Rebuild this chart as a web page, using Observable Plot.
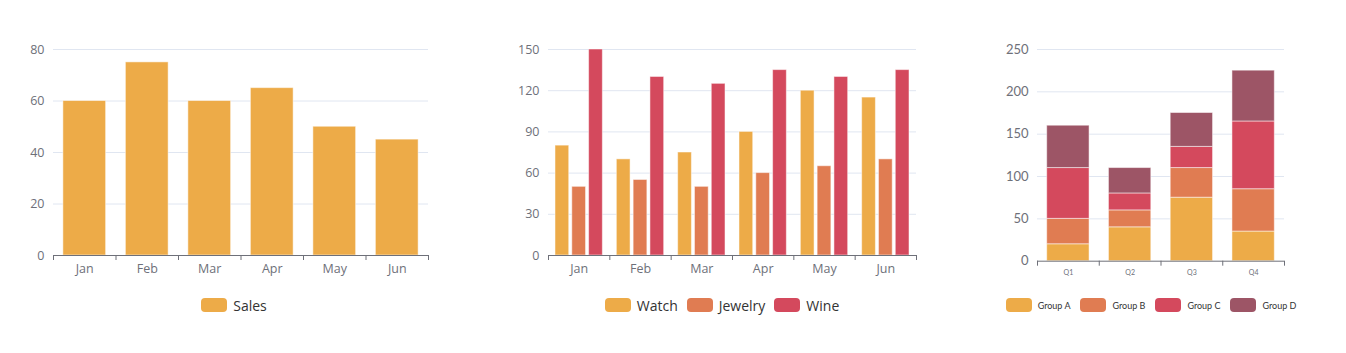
<!DOCTYPE html>
<html><head><meta charset="utf-8">
<script src="https://cdn.jsdelivr.net/npm/d3@7"></script>
<script src="https://cdn.jsdelivr.net/npm/@observablehq/plot@0.6"></script>
<style>
body{margin:0;background:#fff;}
#root{position:relative;width:1346px;height:353px;overflow:hidden;}
.panel{position:absolute;top:0;}
.legend{position:absolute;top:298px;height:14px;width:600px;display:flex;justify-content:center;align-items:center;color:#333;}
.item{display:flex;align-items:center;white-space:nowrap;}
.sw{width:26px;height:14px;border-radius:4px;flex:none;}
</style></head><body><div id="root"></div>
<script>
// ---- data ----
const months = ["Jan","Feb","Mar","Apr","May","Jun"];
const sales = [60,75,60,65,50,45];
const series2 = ["Watch","Jewelry","Wine"];
const watch = [80,70,75,90,120,115];
const jewelry = [50,55,50,60,65,70];
const wine = [150,130,125,135,130,135];
const quarters = ["Q1","Q2","Q3","Q4"];
const groups = ["Group A","Group B","Group C","Group D"];
const groupA = [20,40,75,35];
const groupB = [30,20,35,50];
const groupC = [60,20,25,80];
const groupD = [50,30,40,60];
const ticks1 = [0,20,40,60,80];
const ticks2 = [0,30,60,90,120,150];
const ticks3 = [0,50,100,150,200,250];
const colors = ["#edab48","#e07c52","#d4495d","#9d5566"];

const root = document.getElementById("root");
const AXIS = "#6e7079", GRID = "#e0e6f1";

function makePanel(o) {
  const n = o.cats.length;
  const chart = Plot.plot({
    width: o.width, height: 290,
    marginLeft: o.marginLeft, marginRight: o.marginRight,
    marginTop: o.marginTop, marginBottom: o.marginBottom,
    style: {fontFamily: o.font, background: "transparent", overflow: "visible"},
    x: {type: "linear", domain: [0, n], axis: null, label: null},
    y: {domain: [0, o.yTicks[o.yTicks.length - 1]], axis: null, label: null},
    color: o.color,
    marks: [
      Plot.gridY(o.yTicks.slice(1), {stroke: GRID, strokeOpacity: 1}),
      Plot.axisY(o.yTicks, {tickSize: 0, tickPadding: 9, fontSize: o.yFont, color: AXIS, label: null, fontFamily: o.yFamily || o.font}),
      ...o.marks,
      Plot.ruleY([0], {stroke: AXIS}),
      Plot.axisX(d3.range(n + 1), {tickSize: 5, tickFormat: () => "", color: AXIS, label: null}),
      Plot.axisX(d3.range(n).map(i => i + 0.5), {tickSize: 0, tickPadding: o.xPad, fontSize: o.xFont, color: AXIS, label: null,
        tickFormat: v => o.cats[Math.floor(v)], fontFamily: o.xFamily || o.font})
    ]
  });
  const div = document.createElement("div");
  div.className = "panel";
  div.style.left = o.left + "px";
  div.appendChild(chart);
  root.appendChild(div);
}

function makeLegend(center, names, cols, font, size, gap, textGap) {
  const lg = document.createElement("div");
  lg.className = "legend";
  lg.style.left = (center - 300) + "px";
  lg.style.fontFamily = font;
  lg.style.fontSize = size + "px";
  lg.style.gap = gap + "px";
  names.forEach((nm, i) => {
    const it = document.createElement("div");
    it.className = "item";
    it.style.gap = textGap + "px";
    const sw = document.createElement("div");
    sw.className = "sw";
    sw.style.background = cols[i];
    const tx = document.createElement("span");
    tx.textContent = nm;
    it.appendChild(sw); it.appendChild(tx);
    lg.appendChild(it);
  });
  root.appendChild(lg);
}

const FONT = "'Open Sans', 'Noto Sans', sans-serif";
const barStyle = {stroke: "#fff", strokeOpacity: 0.5, strokeWidth: 1};

// ---- Panel 1 ----
{
  const width = 450, ml = 53, mr = 22;
  const step = (width - ml - mr) / months.length;
  const inset = step * 0.158;
  makePanel({
    left: 0, width, marginLeft: ml, marginRight: mr, marginTop: 49, marginBottom: 35,
    cats: months, yTicks: ticks1, yFont: 12.5, xFont: 12.5, xPad: 9, font: FONT,
    marks: [
      Plot.rectY(sales, {x1: (d, i) => i, x2: (d, i) => i + 1, y1: 0, y2: d => d,
        insetLeft: inset, insetRight: inset, fill: colors[0], ...barStyle})
    ]
  });
  makeLegend(234, ["Sales"], [colors[0]], FONT, 14, 10, 6);
}

// ---- Panel 2 ----
{
  const width = 450, ml = 58, mr = 24;
  const step = (width - ml - mr) / months.length;
  const outer = step * 0.114, bw = step * 0.224, gap = step * 0.05;
  const vals = [watch, jewelry, wine];
  makePanel({
    left: 490, width, marginLeft: ml, marginRight: mr, marginTop: 49, marginBottom: 35,
    cats: months, yTicks: ticks2, yFont: 12.5, xFont: 12.5, xPad: 9, font: FONT,
    marks: vals.map((arr, j) => {
      const il = outer + j * (bw + gap);
      return Plot.rectY(arr, {x1: (d, i) => i, x2: (d, i) => i + 1, y1: 0, y2: d => d,
        insetLeft: il, insetRight: step - il - bw, fill: colors[j], ...barStyle});
    })
  });
  makeLegend(722, series2, colors.slice(0, 3), FONT, 14, 9, 6);
}

// ---- Panel 3 ----
{
  const width = 330, ml = 57, mr = 26;
  const step = (width - ml - mr) / quarters.length;
  const inset = step * 0.157;
  const cols = [groupA, groupB, groupC, groupD];
  const table = [];
  quarters.forEach((q, i) => groups.forEach((g, j) => table.push({i, q, group: g, value: cols[j][i]})));
  makePanel({
    left: 980, width, marginLeft: ml, marginRight: mr, marginTop: 49, marginBottom: 29.3,
    cats: quarters, yTicks: ticks3, yFont: 13, xFont: 7, xPad: 9, font: "Lato, sans-serif",
    color: {domain: groups, range: colors},
    marks: [
      Plot.rectY(table, {x1: "i", x2: d => d.i + 1, y: "value", fill: "group",
        insetLeft: inset, insetRight: inset, ...barStyle})
    ]
  });
  makeLegend(1151, groups, colors, "Lato, sans-serif", 9, 10, 6);
}
</script></body></html>
